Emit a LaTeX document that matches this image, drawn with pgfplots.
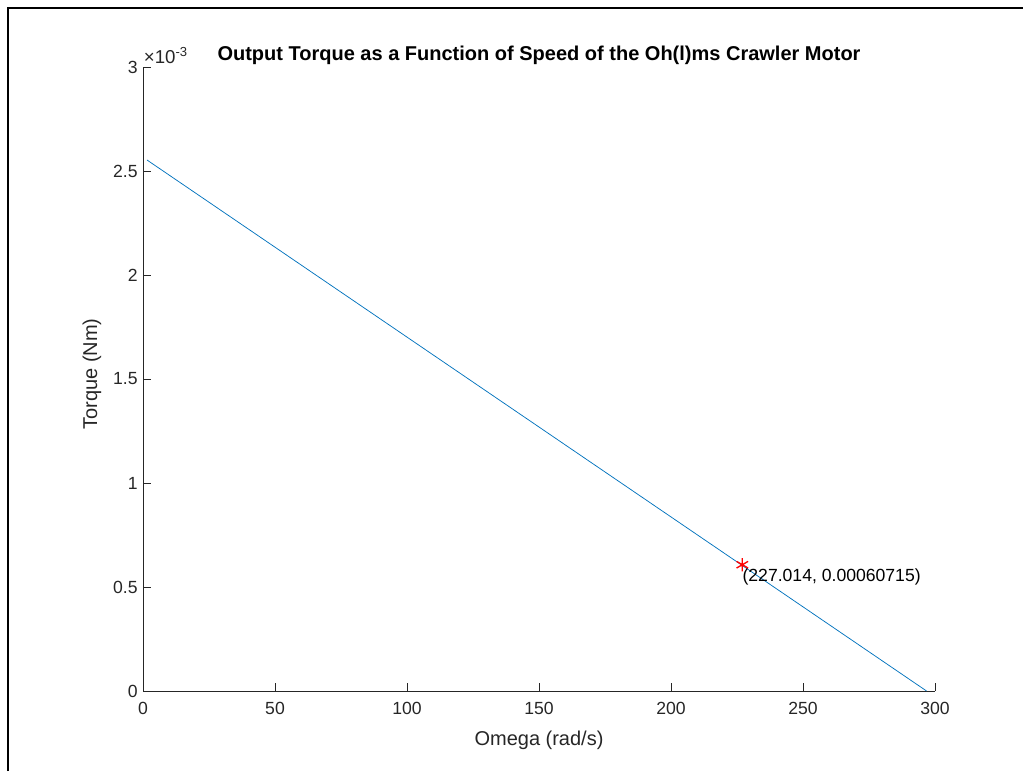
\documentclass[border=0pt]{standalone}
\usepackage{pgfplots}
\pgfplotsset{compat=1.18}
\usepackage{fontspec}
\setmainfont{Liberation Sans}
\definecolor{axgray}{RGB}{38,38,38}
\definecolor{mblue}{RGB}{0,114,189}
\begin{document}
\begin{tikzpicture}
\path[use as bounding box] (0pt,0pt) rectangle (767.25pt,578.25pt);
\draw[line width=1.5pt] (6pt,0pt) -- (6pt,572.25pt) -- (767.25pt,572.25pt);
\begin{axis}[
  at={(107.25pt,60pt)}, anchor=origin,
  scale only axis, width=594pt, height=468pt,
  xmin=0, xmax=300, ymin=0, ymax=0.003,
  axis lines=left, axis line style={-, axgray, line width=0.6pt},
  xtick={0,50,100,150,200,250,300},
  ytick={0,0.0005,0.001,0.0015,0.002,0.0025,0.003},
  scaled y ticks=base 10:3,
  ytick scale label code/.code={\fontsize{14}{16}\selectfont ×10\textsuperscript{#1}},
  every y tick scale label/.style={at={(rel axis cs:0,1)}, anchor=south west, inner sep=0pt, xshift=1pt, yshift=2pt, text=axgray},
  tick align=inside, major tick length=6pt,
  tick style={axgray, line width=0.6pt},
  /pgf/number format/assume math mode=true,
  /pgf/number format/fixed,
  tick label style={font=\fontsize{13.2}{15}\selectfont, text=axgray},
  xticklabel style={yshift=-5pt},
  yticklabel style={xshift=-0.5pt},
  xlabel={Omega (rad/s)}, ylabel={Torque (Nm)},
  every axis x label/.style={at={(rel axis cs:0.5,0)}, anchor=center, yshift=-36.75pt, font=\fontsize{15}{17}\selectfont, text=axgray},
  every axis y label/.style={at={(rel axis cs:0,0.5)}, anchor=center, rotate=90, xshift=3.75pt, yshift=38.25pt, font=\fontsize{15}{17}\selectfont, text=axgray},
  title={\textbf{Output Torque as a Function of Speed of the Oh(l)ms Crawler Motor}},
  title style={at={(rel axis cs:0.5,1)}, anchor=center, yshift=3pt, font=\fontsize{15}{17}\selectfont},
  clip=false,
]
\addplot[mblue, line width=0.55pt] coordinates {(1.5,0.002553) (296.8,0)};
\addplot[red, only marks, mark=asterisk, mark size=5pt, line width=1pt] coordinates {(227.014,0.00060715)};
\node[anchor=west, inner sep=0pt, yshift=-9pt, font=\fontsize{13.2}{15}\selectfont, text=black] at (axis cs:227.014,0.00060715) {(227.014, 0.00060715)};
\end{axis}
\end{tikzpicture}
\end{document}
